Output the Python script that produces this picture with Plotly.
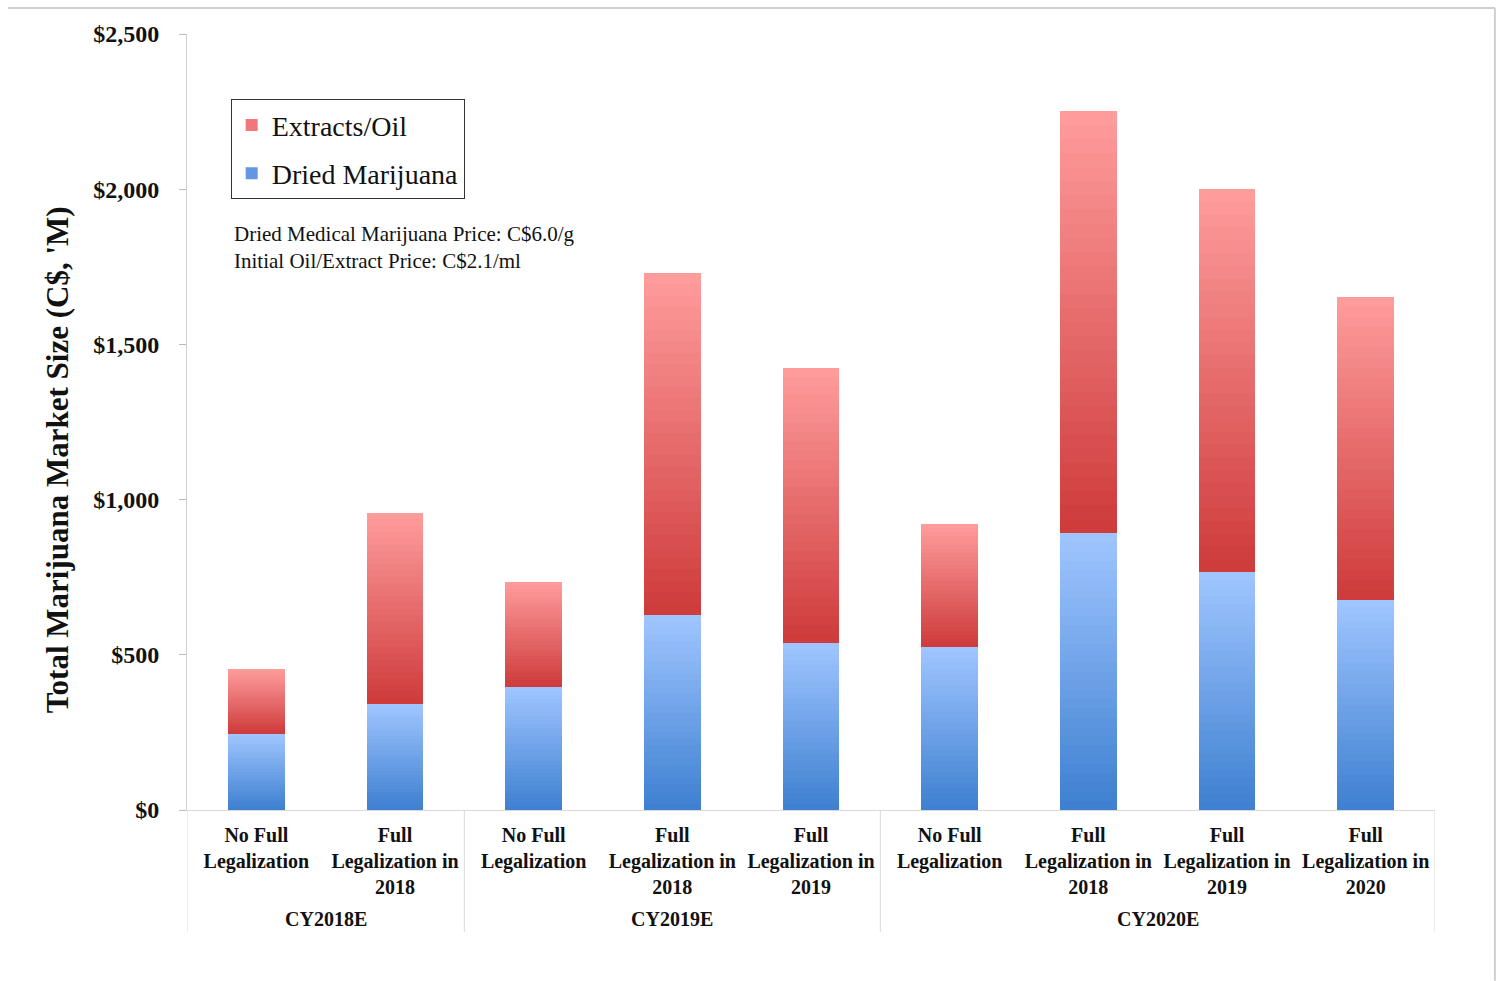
import plotly.graph_objects as go

# Scenario grouping (calendar year) and scenario names
groups = ["CY2018E"] * 2 + ["CY2019E"] * 3 + ["CY2020E"] * 4
scenarios = [
    "No Full<br>Legalization",
    "Full<br>Legalization in<br>2018",
    "No Full<br>Legalization",
    "Full<br>Legalization in<br>2018",
    "Full<br>Legalization in<br>2019",
    "No Full<br>Legalization",
    "Full<br>Legalization in<br>2018",
    "Full<br>Legalization in<br>2019",
    "Full<br>Legalization in<br>2020",
]

# Market size by product, C$ millions
dried = [245, 341, 396, 628, 538, 525, 892, 767, 677]
extracts = [209, 616, 339, 1102, 886, 396, 1360, 1233, 976]

y_ticks = [0, 500, 1000, 1500, 2000, 2500]

SERIF = "Liberation Serif"
N_SLICES = 30

# gradient end colours (bottom -> top of each segment)
BLUE_BOTTOM, BLUE_TOP = (61, 127, 208), (160, 198, 255)
RED_BOTTOM, RED_TOP = (206, 58, 58), (255, 157, 157)


def mix(c0, c1, t):
    return "rgb({},{},{})".format(*[round(a + (b - a) * t) for a, b in zip(c0, c1)])


pos = list(range(len(scenarios)))
fig = go.Figure()


def add_gradient_segment(values, c_bottom, c_top):
    # a stacked segment drawn as thin slices so it shades from bottom to top
    for k in range(N_SLICES):
        t = (k + 0.5) / N_SLICES
        fig.add_trace(go.Bar(
            x=pos,
            y=[v / N_SLICES for v in values],
            marker=dict(color=mix(c_bottom, c_top, t), line=dict(width=0)),
            showlegend=False,
            hoverinfo="skip",
        ))


add_gradient_segment(dried, BLUE_BOTTOM, BLUE_TOP)
add_gradient_segment(extracts, RED_BOTTOM, RED_TOP)

# legend entries
fig.add_trace(go.Bar(x=pos, y=[0] * len(pos), name="Extracts/Oil",
                     marker=dict(color="rgb(240,120,120)", line=dict(width=0)),
                     legendgroup="extracts", hoverinfo="skip"))
fig.add_trace(go.Bar(x=pos, y=[0] * len(pos), name="Dried Marijuana",
                     marker=dict(color="rgb(100,150,225)", line=dict(width=0)),
                     legendgroup="dried", hoverinfo="skip"))

# year group labels and dividers under the category axis
group_names = list(dict.fromkeys(groups))
divider_style = dict(color="#d9d9d9", width=1)
start = 0
for g in group_names:
    n = groups.count(g)
    fig.add_annotation(
        x=start + (n - 1) / 2, xref="x", y=-0.1405, yref="paper",
        text=f"<b>{g}</b>", showarrow=False, xanchor="center", yanchor="middle",
        font=dict(family=SERIF, size=20, color="#111"),
    )
    fig.add_shape(type="line", xref="x", yref="paper",
                  x0=start - 0.5, x1=start - 0.5, y0=0, y1=-0.157, line=divider_style)
    start += n
fig.add_shape(type="line", xref="x", yref="paper",
              x0=start - 0.5, x1=start - 0.5, y0=0, y1=-0.157, line=divider_style)

# price assumptions note
fig.add_annotation(
    xref="paper", yref="paper", x=0.036, y=0.76, xanchor="left", yanchor="top",
    text="Dried Medical Marijuana Price: C$6.0/g<br>Initial Oil/Extract Price: C$2.1/ml",
    showarrow=False, align="left",
    font=dict(family=SERIF, size=21, color="#111"),
)

# y-axis title
fig.add_annotation(
    xref="paper", yref="paper", x=-0.104, y=0.451, xanchor="center", yanchor="middle",
    text="Total Marijuana Market Size (C$, 'M)", textangle=-90, showarrow=False,
    font=dict(family=SERIF, size=31, color="#111", weight="bold"),
)

# outer frame (top and right edges)
frame = dict(type="line", xref="paper", yref="paper",
             line=dict(color="#cfcfcf", width=2))
fig.add_shape(**frame, x0=-0.1434, x1=1.048, y0=1.0335, y1=1.0335)
fig.add_shape(**frame, x0=1.048, x1=1.048, y0=1.0335, y1=-0.22)

fig.update_layout(
    width=1498, height=981,
    margin=dict(l=187, r=63, t=34, b=171),
    paper_bgcolor="white", plot_bgcolor="white",
    barmode="stack", bargap=0.59,
    showlegend=True,
    legend=dict(
        x=0.035, y=0.916, xanchor="left", yanchor="top",
        traceorder="grouped", tracegroupgap=9,
        bordercolor="#333", borderwidth=1, bgcolor="white",
        font=dict(family=SERIF, size=28, color="#111"),
    ),
    font=dict(family=SERIF, color="#111"),
)

fig.update_yaxes(
    range=[0, 2500], tickvals=y_ticks, tickformat="$,d",
    showgrid=False, zeroline=False,
    showline=True, linecolor="#d0d0d0", linewidth=1,
    ticks="outside", ticklen=7, tickcolor="#bbbbbb",
    ticklabelstandoff=15,
    tickfont=dict(family=SERIF, size=24, color="#111", weight="bold"),
)

fig.update_xaxes(
    range=[-0.5, len(pos) - 0.5],
    tickvals=pos, ticktext=scenarios,
    showgrid=False, zeroline=False,
    showline=True, linecolor="#d9d9d9", linewidth=1,
    ticks="",
    ticklabelstandoff=7,
    tickfont=dict(family=SERIF, size=20, color="#111", weight="bold"),
)

fig.write_html("out.html")
